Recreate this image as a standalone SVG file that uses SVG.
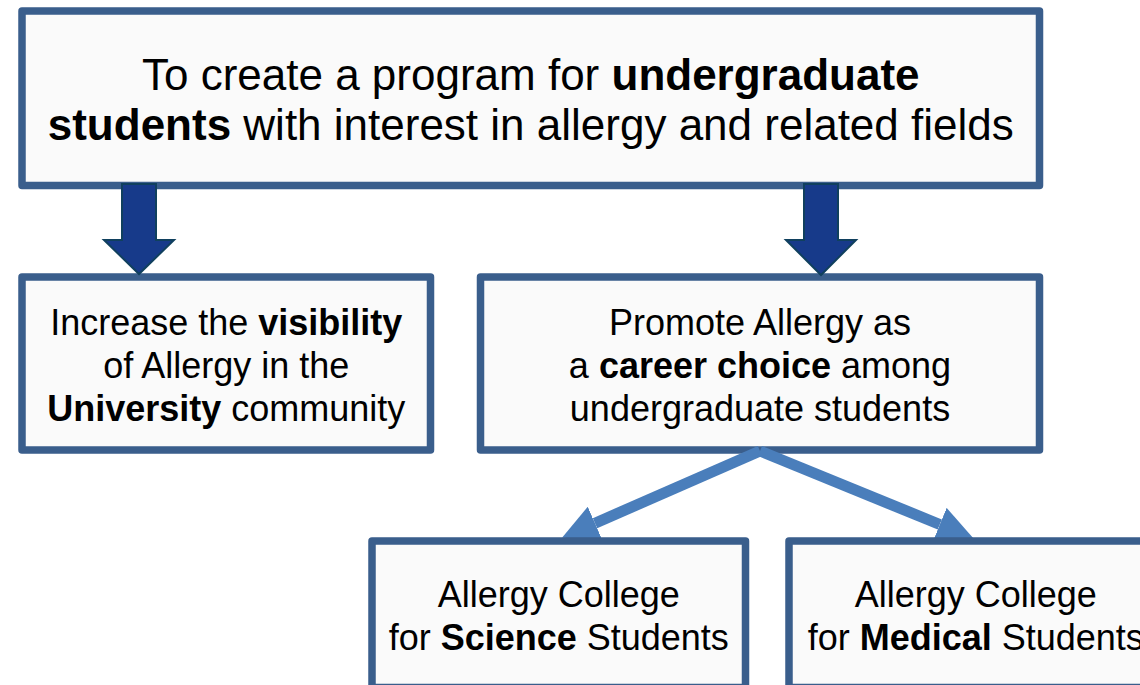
<svg xmlns="http://www.w3.org/2000/svg" width="1140" height="685" viewBox="0 0 1140 685">
  <style>
    .box { fill: #fafafa; stroke: #3a5e8c; stroke-width: 7.5; stroke-linejoin: round; }
    .t { font-family: "Liberation Sans", Arial, sans-serif; fill: #000; text-anchor: middle; }
    .big { font-size: 44px; }
    .mid { font-size: 36px; }
    .b { font-weight: bold; }
    .down { fill: #173a8a; stroke: #10405e; stroke-width: 2; stroke-linejoin: miter; }
    .link { stroke: #4a7ebb; stroke-width: 11; fill: none; stroke-linecap: butt; }
  </style>
  <defs>
    <marker id="head" viewBox="0 -18 36 36" refX="0" refY="0" markerWidth="36" markerHeight="36" markerUnits="userSpaceOnUse" orient="auto">
      <path d="M0,-18 L36,0 L0,18 Z" fill="#4a7ebb"/>
    </marker>
  </defs>
  <rect width="1140" height="685" fill="#ffffff"/>

  <g id="goal">
    <rect class="box" x="22" y="11" width="1017.5" height="174.5"/>
    <text class="t big" x="530.75" y="90">To create a program for <tspan class="b">undergraduate</tspan></text>
    <text class="t big" x="530.75" y="140"><tspan class="b">students</tspan> with interest in allergy and related fields</text>
  </g>

  <g id="visibility">
    <rect class="box" x="22" y="277" width="408.5" height="173"/>
    <text class="t mid" x="226.25" y="335">Increase the <tspan class="b">visibility</tspan></text>
    <text class="t mid" x="226.25" y="378">of Allergy in the</text>
    <text class="t mid" x="226.25" y="421"><tspan class="b">University</tspan> community</text>
  </g>

  <g id="career">
    <rect class="box" x="480.5" y="277" width="559" height="173"/>
    <text class="t mid" x="760" y="335">Promote Allergy as</text>
    <text class="t mid" x="760" y="378">a <tspan class="b">career choice</tspan> among</text>
    <text class="t mid" x="760" y="421">undergraduate students</text>
  </g>

  <g id="connectors">
    <polygon class="down" points="122,184 156,184 156,240 174,240 139,274 104,240 122,240"/>
    <polygon class="down" points="804,184 838,184 838,240 856,240 821,275 786,240 804,240"/>
    <line class="link" x1="760" y1="451" x2="595" y2="523.2" marker-end="url(#head)"/>
    <line class="link" x1="760" y1="451" x2="939.8" y2="524.5" marker-end="url(#head)"/>
  </g>

  <g id="science">
    <rect class="box" x="372" y="541" width="373.5" height="146.5"/>
    <text class="t mid" x="558.75" y="607">Allergy College</text>
    <text class="t mid" x="558.75" y="650">for <tspan class="b">Science</tspan> Students</text>
  </g>

  <g id="medical">
    <rect class="box" x="789" y="541" width="373.5" height="146.5"/>
    <text class="t mid" x="975.75" y="607">Allergy College</text>
    <text class="t mid" x="975.75" y="650">for <tspan class="b">Medical</tspan> Students</text>
  </g>
</svg>
